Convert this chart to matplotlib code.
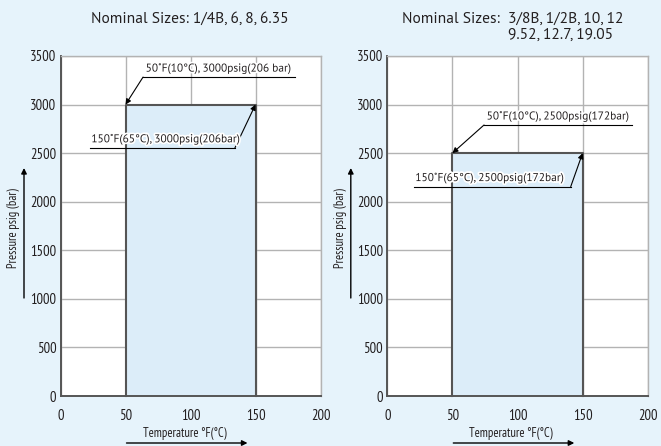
import matplotlib
matplotlib.use("Agg")
import matplotlib.pyplot as plt
from matplotlib.patches import Rectangle, FancyArrowPatch
import matplotlib.patheffects as pe

MAIN_FONT = ['PT Sans', 'Lato', 'DejaVu Sans']
NARROW_FONT = ['PT Sans Narrow', 'Liberation Sans Narrow', 'Lato', 'DejaVu Sans']
plt.rcParams['font.family'] = MAIN_FONT

# Data
temp_ticks = [0, 50, 100, 150, 200]
pressure_ticks = [0, 500, 1000, 1500, 2000, 2500, 3000, 3500]
temp_range = [50, 150]                  # operating temperature range (°F)
max_pressure = [3000, 2500]             # rated pressure per size group (psig)
titles = ["Nominal Sizes: 1/4B, 6, 8, 6.35",
          "Nominal Sizes:  3/8B, 1/2B, 10, 12"]
title_line2 = ["", "9.52, 12.7, 19.05"]
label_low = ["50˚F(10°C), 3000psig(206 bar)", "50˚F(10°C), 2500psig(172bar)"]
label_high = ["150˚F(65°C), 3000psig(206bar)", "150˚F(65°C), 2500psig(172bar)"]

# Callout leader positions (start x, end x, y of underline)
low_leader = [(63.5, 180.4, 3283), (74.3, 188.0, 2790)]
high_leader = [(22.7, 134.2, 2555), (20.5, 140.9, 2156)]

W, H = 661, 446
fig = plt.figure(figsize=(W / 100, H / 100), dpi=100)
fig.patch.set_facecolor('#e6f3fb')

axes_px = [(60.5, 260.0), (387.3, 260.4)]
bottom_px, top_px = 396.0, 56.0

grid_c = '#b3b3b3'
edge_c = '#555555'
text_c = '#231f20'
halo = [pe.withStroke(linewidth=2.5, foreground='white')]

for i, (x0, w) in enumerate(axes_px):
    ax = fig.add_axes([x0 / W, (H - bottom_px) / H, w / W, (bottom_px - top_px) / H])
    ax.set_facecolor('white')
    ax.set_xlim(temp_ticks[0], temp_ticks[-1])
    ax.set_ylim(pressure_ticks[0], pressure_ticks[-1])
    ax.set_xticks(temp_ticks)
    ax.set_yticks(pressure_ticks)
    ax.tick_params(length=0, labelsize=10.5, colors=text_c)
    ax.tick_params(axis='x', pad=9)
    ax.tick_params(axis='y', pad=3)
    for lbl in ax.get_xticklabels() + ax.get_yticklabels():
        lbl.set_family(NARROW_FONT)
    ax.grid(True, color=grid_c, lw=1.0)
    ax.set_axisbelow(True)
    for s in ['top', 'right']:
        ax.spines[s].set_color(grid_c)
        ax.spines[s].set_linewidth(1.0)
    for s in ['left', 'bottom']:
        ax.spines[s].set_color(edge_c)
        ax.spines[s].set_linewidth(1.4)

    # Operating envelope
    rect = Rectangle((temp_range[0], 0), temp_range[1] - temp_range[0], max_pressure[i],
                     facecolor='#dcedf9', edgecolor='none', zorder=1.5)
    ax.add_patch(rect)
    ax.plot([temp_range[0], temp_range[0], temp_range[1], temp_range[1]],
            [0, max_pressure[i], max_pressure[i], 0],
            color=edge_c, lw=1.5, zorder=3, clip_on=False)

    # Callouts
    arrow = dict(arrowstyle='-|>', lw=0.8, color='black', mutation_scale=8,
                 shrinkA=0, shrinkB=0)
    xs, xe, yl = low_leader[i]
    ax.plot([xs, xe], [yl, yl], color='black', lw=0.8, zorder=4)
    ax.annotate('', xy=(temp_range[0], max_pressure[i]), xytext=(xs, yl),
                arrowprops=arrow, zorder=4)
    ax.text(xs + 2, yl + 30, label_low[i], fontsize=8.2, ha='left', va='bottom',
            color=text_c, zorder=5, path_effects=halo)

    xs, xe, yl = high_leader[i]
    ax.plot([xs, xe], [yl, yl], color='black', lw=0.8, zorder=4)
    ax.annotate('', xy=(temp_range[1], max_pressure[i]), xytext=(xe, yl),
                arrowprops=arrow, zorder=4)
    ax.text(xs + 1, yl + 30, label_high[i], fontsize=8.2, ha='left', va='bottom',
            color=text_c, zorder=5, path_effects=halo)

    # Axis captions with arrows
    fig.text((x0 + 124) / W, 1 - 433 / H, 'Temperature °F(°C)', fontsize=9,
             family=NARROW_FONT, ha='center', va='center', color=text_c)
    fig.add_artist(FancyArrowPatch(
        ((x0 + 66) / W, 1 - 443 / H), ((x0 + 187) / W, 1 - 443 / H),
        transform=fig.transFigure, arrowstyle='-|>', mutation_scale=8, lw=1.0,
        color='black', shrinkA=0, shrinkB=0))
    fig.text((x0 - 46.5) / W, 1 - 228 / H, 'Pressure psig (bar)', fontsize=9,
             family=NARROW_FONT, rotation=90, ha='center', va='center', color=text_c)
    fig.add_artist(FancyArrowPatch(
        ((x0 - 36.5) / W, 1 - 298 / H), ((x0 - 36.5) / W, 1 - 168 / H),
        transform=fig.transFigure, arrowstyle='-|>', mutation_scale=8, lw=1.0,
        color='black', shrinkA=0, shrinkB=0))

# Titles
fig.text(190 / W, 1 - 19 / H, titles[0], fontsize=11.2, ha='center', va='center', color=text_c)
fig.text(402 / W, 1 - 19 / H, titles[1], fontsize=11.2, ha='left', va='center', color=text_c)
fig.text(508 / W, 1 - 35 / H, title_line2[1], fontsize=11.2, ha='left', va='center', color=text_c)

fig.savefig('out.png', dpi=100, facecolor=fig.get_facecolor())
